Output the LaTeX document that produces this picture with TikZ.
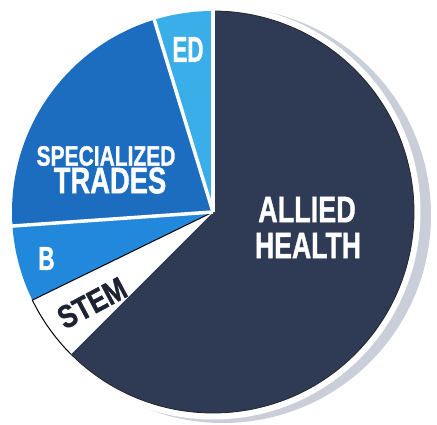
\documentclass[tikz,border=0pt]{standalone}
\usepackage{fontspec}
\setmainfont{Liberation Sans}[BoldFeatures={FakeBold=1.3}]
\usepackage{graphicx}
\definecolor{ahcol}{HTML}{2F3A55}
\definecolor{stcol}{HTML}{1C6CC0}
\definecolor{bcol}{HTML}{2288DC}
\definecolor{edcol}{HTML}{39AEE8}
\definecolor{shadowcol}{HTML}{C9CED9}
\definecolor{stemtxt}{HTML}{1D2333}
\newcommand\condtxt[2]{\scalebox{#1}[1]{#2}}
\tikzset{
  lbl/.style={text=white, inner sep=0pt, anchor=center, font=\bfseries},
  sep/.style={white, line width=3.5pt},
}
\begin{document}
\begin{tikzpicture}[x=1pt,y=1pt]
\useasboundingbox (0,0) rectangle (437,424);
\fill[white] (0,0) rectangle (437,424);
\coordinate (c) at (213,212);
\def\R{201}
% shadow
\fill[shadowcol] (223,209) circle[radius=208];
\fill[white] (c) circle[radius=207.5];
% slices
\fill[ahcol] (c) -- ++(-135:\R) arc[start angle=-135, end angle=90, radius=\R] -- cycle;
\fill[edcol] (c) -- ++(90:\R) arc[start angle=90, end angle=107, radius=\R] -- cycle;
\fill[stcol] (c) -- ++(107:\R) arc[start angle=107, end angle=184, radius=\R] -- cycle;
\fill[bcol] (c) -- ++(184:\R) arc[start angle=184, end angle=206, radius=\R] -- cycle;
\fill[white] (c) -- ++(206:\R) arc[start angle=206, end angle=225, radius=\R] -- cycle;
% outlines
\draw[black!85, line width=0.8pt] (c) ++(-135:\R) arc[start angle=-135, end angle=90, radius=\R];
\draw[black, line width=1pt] (c) -- ++(206:\R) arc[start angle=206, end angle=225, radius=\R];
% separators
\draw[sep] (c) -- ++(90:\R+1);
\draw[sep] (c) -- ++(107:\R+1);
\draw[sep] (c) -- ++(184:\R+1);
% labels
\node[lbl, font=\bfseries\fontsize{37}{37}\selectfont] (allied) at (307,214.5) {\condtxt{0.73}{ALLIED}};
\node[lbl, font=\bfseries\fontsize{37}{37}\selectfont] (health) at (308,178.5) {\condtxt{0.72}{HEALTH}};
\node[lbl, font=\bfseries\fontsize{28}{28}\selectfont] (spec) at (106,268) {\condtxt{0.75}{SPECIALIZED}};
\node[lbl, font=\bfseries\fontsize{37}{37}\selectfont] (trades) at (110,243.5) {\condtxt{0.74}{TRADES}};
\node[lbl, font=\bfseries\fontsize{36}{36}\selectfont] (ed) at (188,374.5) {\condtxt{0.62}{ED}};
\node[lbl, font=\bfseries\fontsize{33}{33}\selectfont] (b) at (46.5,165.5) {\condtxt{0.68}{B}};
\node[lbl, text=stemtxt, rotate=28, font=\bfseries\fontsize{32}{32}\selectfont] (stem) at (92,121) {\condtxt{0.82}{STEM}};
\end{tikzpicture}
\end{document}
